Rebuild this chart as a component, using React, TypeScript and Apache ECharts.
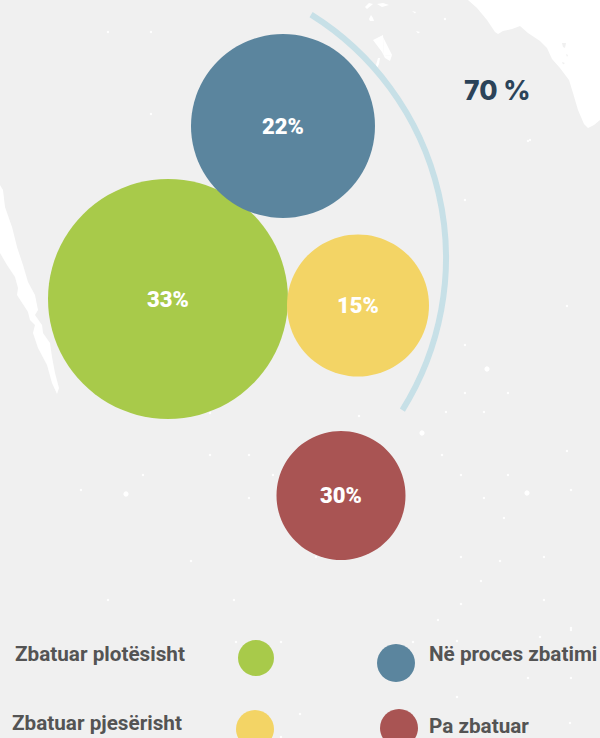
import React, { useEffect, useRef } from "react";
import * as echarts from "echarts";

const categories = ["Zbatuar plotësisht", "Në proces zbatimi", "Zbatuar pjesërisht", "Pa zbatuar"];
const shares = [33, 22, 15, 30];
const colors = ["#a8ca4a", "#5b859e", "#f3d465", "#a95453"];
const bubbleX = [168, 283, 358, 341];
const bubbleY = [299, 126, 305.5, 495.5];
const bubbleDiameter = [240, 184, 142, 129];
const totalLabel = "70 %";

const coastRight = [[468,0],[477,8],[487,20],[495,32],[498,34],[503,31],[512,29],[520,26],[528,33],[540,41],[547,48],[552,59],[560,68],[569,80],[573,93],[578,110],[584,124],[588,128],[594,125],[600,120],[600,0]];
const coastLeft = [[0,185],[3,190],[5,207],[12,227],[17,247],[23,265],[28,282],[35,295],[38,310],[35,315],[42,325],[43,333],[50,343],[52,357],[55,373],[59,388],[57,394],[52,383],[47,365],[38,348],[33,333],[35,325],[30,320],[28,312],[17,295],[18,288],[15,277],[7,265],[0,253]];
const islands = [
  [[373,40],[383,35],[384,56],[392,55],[390,61],[385,58],[382,52]],
  [[383,37],[386,43],[392,55],[384,56]],
  [[365,7],[369,3],[373,4],[367,9]],
  [[377,4],[383,3],[389,5],[382,7]],
  [[371,15],[373,18],[374,21],[370,21],[369,19]],
  [[378,58],[380,58],[379,64],[377,68],[376,65]],
  [[412,11],[416,12],[415,13.5]],
  [[416,31],[420,32],[418,33.5]],
];
const grayIslands = [[[562,43],[566,43],[565,48],[563,47]],[[566,54],[568,55],[567,57]],[[562,62],[565,63],[563,64.5]]];
const specks = [[210,455],[249,455],[143,475],[273,475],[81,490],[249,498],[191,561],[108,600],[234,600],[210,413],[465,393],[508,393],[446,412],[484,412],[359,416],[442,455],[567,451],[461,475],[508,475],[571,490],[484,498],[504,518],[461,557],[500,561],[544,557],[481,581],[544,600],[461,604],[438,620],[571,628],[316,557],[528,141],[465,200],[567,306],[465,345],[108,32],[151,32],[151,114],[571,630],[281,642],[236,642],[413,642],[457,641],[540,637],[528,678],[571,678],[457,697],[300,714],[281,737],[488,729],[570,723],[530,140],[445,19]];
const bigSpecks = [[126,494],[422,433],[527,493],[487,369]];

const legendDots = [
  { cx: 256, cy: 658, rx: 18, ry: 18 },
  { cx: 396, cy: 663, rx: 19, ry: 19 },
  { cx: 255, cy: 729, rx: 19, ry: 19 },
  { cx: 399, cy: 728, rx: 19, ry: 19 },
];
const legendText = [
  { x: 15, y: 654 },
  { x: 429, y: 654 },
  { x: 12, y: 723 },
  { x: 429, y: 726 },
];

export default function App() {
  const ref = useRef<HTMLDivElement>(null);
  useEffect(() => {
    const chart = echarts.init(ref.current!, undefined, { renderer: "svg" });
    const poly = (points: number[][], fill: string) => ({ type: "polygon", shape: { points }, style: { fill } });
    chart.setOption({
      animation: false,
      backgroundColor: "#f0f0f0",
      grid: { left: 0, right: 0, top: 0, bottom: 0 },
      xAxis: { type: "value", min: 0, max: 600, show: false },
      yAxis: { type: "value", min: 0, max: 738, inverse: true, show: false },
      series: [
        {
          type: "scatter",
          silent: true,
          data: categories.map((name, i) => ({
            name,
            value: [bubbleX[i], bubbleY[i], shares[i]],
            symbolSize: bubbleDiameter[i],
            itemStyle: { color: colors[i], opacity: 1 },
          })),
          label: {
            show: true,
            position: "inside",
            formatter: (p: any) => p.value[2] + "%",
            color: "#ffffff",
            fontFamily: "Roboto",
            fontWeight: 900,
            fontSize: 22,
          },
        },
      ],
      graphic: [
        poly(coastRight, "#ffffff"),
        poly(coastLeft, "#ffffff"),
        ...islands.map((p) => poly(p, "#ffffff")),
        ...grayIslands.map((p) => poly(p, "#f0f0f0")),
        ...specks.map(([cx, cy]) => ({ type: "circle", shape: { cx, cy, r: 1.2 }, style: { fill: "#ffffff" } })),
        ...bigSpecks.map(([cx, cy]) => ({ type: "circle", shape: { cx, cy, r: 2.6 }, style: { fill: "#ffffff" } })),
        {
          type: "arc",
          shape: { cx: 159, cy: 258, r: 287, startAngle: (-58 * Math.PI) / 180, endAngle: (32 * Math.PI) / 180, clockwise: true },
          style: { stroke: "#c7e0e7", lineWidth: 6, fill: "none" },
        },
        {
          type: "text",
          x: 464,
          y: 90,
          style: { text: totalLabel, fill: "#2b4359", font: "800 26.5px Inter", textAlign: "left", textVerticalAlign: "middle" },
        },
        ...legendDots.map((d, i) => ({
          type: "ellipse",
          shape: { cx: d.cx, cy: d.cy, rx: d.rx, ry: d.ry },
          style: { fill: colors[i] },
        })),
        ...categories.map((name, i) => ({
          type: "text",
          x: legendText[i].x,
          y: legendText[i].y,
          style: { text: name, fill: "#545454", font: "700 20.7px Roboto", textAlign: "left", textVerticalAlign: "middle" },
        })),
      ],
    });
    return () => chart.dispose();
  }, []);
  return <div ref={ref} style={{ position: "absolute", left: 0, top: 0, width: 600, height: 738 }} />;
}
